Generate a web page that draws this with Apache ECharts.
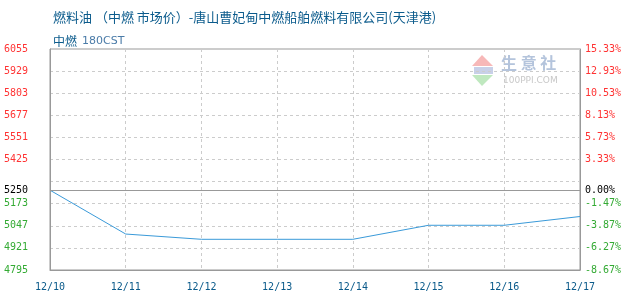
<!DOCTYPE html>
<html><head><meta charset="utf-8">
<script src="https://cdn.jsdelivr.net/npm/echarts@6/dist/echarts.min.js"></script>
<style>html,body{margin:0;padding:0;background:#fff}#c{width:630px;height:300px}</style>
</head><body><div id="c"></div>
<script>
const categories = ['12/10','12/11','12/12','12/13','12/14','12/15','12/16','12/17'];
const prices = [5250, 5000, 4970, 4970, 4970, 5050, 5050, 5100];
const basePrice = 5250;
const axisMin = 4795, axisMax = 6055, axisStep = 126;
const hiddenTickValues = [5299];

const MONO = '"DejaVu Sans Mono", monospace';
const CJK = '"Noto Sans CJK SC", sans-serif';

function cls(v) { return v > basePrice ? 'r' : (v < basePrice ? 'g' : 'k'); }
function isHidden(v) { return hiddenTickValues.indexOf(Math.round(v)) >= 0; }
const richColors = {
  r: { color: '#ff3333', fontFamily: MONO, fontSize: 10 },
  g: { color: '#33aa33', fontFamily: MONO, fontSize: 10 },
  k: { color: '#000000', fontFamily: MONO, fontSize: 10 }
};

const chart = echarts.init(document.getElementById('c'), null, { renderer: 'canvas' });
chart.setOption({
  animation: false,
  backgroundColor: '#fff',
  title: [
    {
      text: '{a|燃料油 （中燃 市场价）-唐山曹妃甸中燃船舶燃料有限公司(天津港)}',
      left: 48, top: 6,
      textStyle: { fontWeight: 'normal', rich: {
        a: { fontFamily: CJK, fontSize: 13, fontWeight: 'normal', color: '#0b5b8c' }
      } }
    },
    {
      text: '{a|中燃} {b|180CST}',
      left: 48, top: 27,
      textStyle: { fontWeight: 'normal', rich: {
        a: { fontFamily: CJK, fontSize: 12, fontWeight: 'normal', color: '#0b5b8c' },
        b: { fontFamily: '"DejaVu Sans", sans-serif', fontSize: 11, fontWeight: 'normal', color: '#4a7ba8' }
      } }
    }
  ],
  grid: { left: 50, right: 50, top: 49, bottom: 30, show: true, borderColor: '#999', borderWidth: 1, backgroundColor: 'transparent' },
  xAxis: {
    type: 'category', data: categories, boundaryGap: false,
    axisLine: { lineStyle: { color: '#999' } },
    axisTick: { show: false },
    axisLabel: { color: '#0a5a8a', fontFamily: MONO, fontSize: 10, margin: 12, showMaxLabel: true },
    splitLine: { show: true, lineStyle: { color: '#ccc', type: [3, 3] } }
  },
  yAxis: [
    {
      type: 'value', min: axisMin, max: axisMax, interval: axisStep, position: 'left',
      axisLine: { show: true, lineStyle: { color: '#999' } },
      axisTick: { show: false },
      axisLabel: {
        margin: 22,
        formatter: v => isHidden(v) ? '' : '{' + cls(v) + '|' + Math.round(v) + '}',
        rich: richColors
      },
      splitLine: { show: true, lineStyle: { color: '#ccc', type: [3, 3] } }
    },
    {
      type: 'value', min: axisMin, max: axisMax, interval: axisStep, position: 'right',
      axisLine: { show: true, lineStyle: { color: '#999' } },
      axisTick: { show: false },
      axisLabel: {
        margin: 5,
        formatter: v => {
          if (isHidden(v)) return '';
          const p = ((v - basePrice) / basePrice * 100).toFixed(2) + '%';
          return '{' + cls(v) + '|' + p + '}';
        },
        rich: richColors
      },
      splitLine: { show: false }
    }
  ],
  series: [{
    type: 'line', data: prices, yAxisIndex: 0,
    symbol: 'none', smooth: false,
    lineStyle: { color: '#3a9ad9', width: 1 },
    markLine: {
      silent: true, symbol: 'none',
      lineStyle: { color: '#999', type: 'solid', width: 1 },
      data: [
        { yAxis: basePrice, label: { position: 'start', distance: 22, formatter: String(basePrice), color: '#000', fontFamily: MONO, fontSize: 10 } },
        { yAxis: basePrice, label: { position: 'end', distance: 5, formatter: '0.00%', color: '#000', fontFamily: MONO, fontSize: 10 } }
      ]
    }
  }],
  graphic: [
    { type: 'polygon', shape: { points: [[472, 66], [482, 55], [493, 66]] }, style: { fill: '#f7b8b8' }, silent: true },
    { type: 'rect', shape: { x: 474, y: 67, width: 19, height: 7 }, style: { fill: '#c8d0e8' }, silent: true },
    { type: 'polygon', shape: { points: [[472, 75], [493, 75], [482, 86]] }, style: { fill: '#bfe8bf' }, silent: true },
    { type: 'text', left: 501, top: 55, style: { text: '生 意 社', fill: '#b4c4dc', font: 'bold 16px "Noto Sans CJK SC"' }, silent: true },
    { type: 'text', left: 503, top: 76, style: { text: '100PPI.COM', fill: '#c8c8c8', font: '9px "DejaVu Sans"' }, silent: true }
  ]
});
</script>
</body></html>
